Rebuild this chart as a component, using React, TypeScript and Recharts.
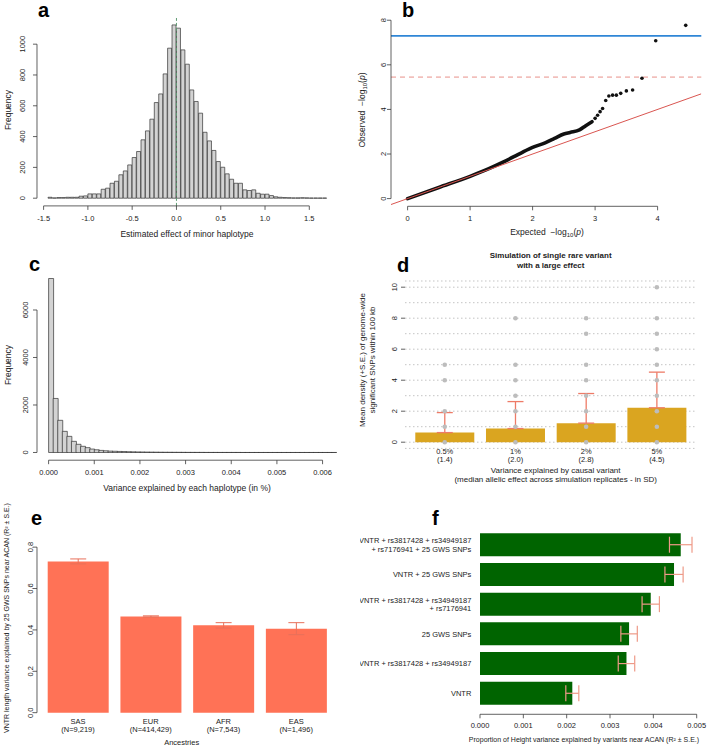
import React from 'react'
import {
  ComposedChart,
  BarChart,
  Bar,
  Line,
  Scatter,
  XAxis,
  YAxis,
  ReferenceLine,
  CartesianGrid,
  ErrorBar,
} from 'recharts'

const FONT = '"Liberation Sans", Arial, Helvetica, sans-serif'
const INK = '#222'
const AXIS = '#3a3a3a'

// a: estimated effect of minor haplotype (histogram, bins of 0.05)
const effectStart = -1.45
const effectBinWidth = 0.05
const effectCounts = [
  6, 2, 4, 4, 6, 6, 6, 13, 15, 28, 28, 28, 58, 65, 97, 110, 152, 177, 216, 264,
  303, 379, 437, 513, 621, 677, 807, 974, 1125, 1104, 963, 870, 703, 628, 552, 428,
  372, 310, 238, 201, 158, 123, 97, 97, 54, 50, 54, 32, 26, 26, 17, 9, 6, 4, 3, 2,
  2, 3, 2, 1, 1, 1, 1,
]
const effectTicks = [-1.5, -1, -0.5, 0, 0.5, 1, 1.5]
const effectFreqTicks = [0, 200, 400, 600, 800, 1000]

// b: QQ plot
const qqExpected = [0, 0.5, 1.0, 1.3, 1.5, 1.7, 1.85, 2.0, 2.2, 2.35, 2.5, 2.6, 2.75, 2.85, 2.95]
const qqObserved = [0, 0.5, 1.0, 1.34, 1.6, 1.88, 2.1, 2.3, 2.5, 2.7, 2.9, 2.97, 3.08, 3.27, 3.45]
const qqTailExpected = [3.0, 3.04, 3.08, 3.12, 3.17, 3.22, 3.28, 3.34, 3.41, 3.5, 3.6, 3.75, 3.97, 4.45]
const qqTailObserved = [3.6, 3.74, 3.9, 4.04, 4.4, 4.6, 4.64, 4.64, 4.72, 4.83, 4.87, 5.4, 7.08, 7.77]
const qqXTicks = [0, 1, 2, 3, 4]
const qqYTicks = [0, 2, 4, 6, 8]
const gwsThreshold = 7.3
const suggestiveThreshold = 5.45

// c: variance explained by each haplotype (bins of 0.0001)
const varStart = 0
const varBinWidth = 0.0001
const varCounts = [
  7326, 2275, 1355, 890, 680, 470, 345, 260, 205, 145, 115, 88, 72, 58, 52, 44, 40,
  33, 28, 24, 21, 18, 15, 13, 11, 10, 9, 8, 7, 6, 5, 5, 4, 4, 3, 3, 3, 2, 2, 2, 2, 2,
  1, 1, 1, 1, 1, 1, 1, 1, 1, 1, 1, 1, 1, 1, 1, 1, 1, 1, 1, 1, 1,
]
const varTicks = [0, 0.001, 0.002, 0.003, 0.004, 0.005, 0.006]
const varFreqTicks = [0, 2000, 4000, 6000]

// d: simulation of single rare variant
const simCats = ['0.5%', '1%', '2%', '5%']
const simEffects = ['(1.4)', '(2.0)', '(2.8)', '(4.5)']
const simMeans = [0.62, 0.88, 1.23, 2.22]
const simUpper = [1.91, 2.62, 3.14, 4.52]
const simReplicates = [
  [0, 1, 2, 4, 5],
  [0, 1, 2, 3, 4, 5, 8],
  [0, 1, 2, 3, 4, 5, 7, 8],
  [0, 1, 2, 3, 4, 5, 6, 7, 8, 10],
]
const simTicks = [0, 1, 2, 3, 4, 5, 6, 7, 8, 9, 10]

// e: VNTR length variance by ancestry
const ancestries = ['SAS', 'EUR', 'AFR', 'EAS']
const ancestryN = ['(N=9,219)', '(N=414,429)', '(N=7,543)', '(N=1,496)']
const vntrR2 = [0.731, 0.465, 0.422, 0.406]
const vntrSE = [0.012, 0.003, 0.013, 0.029]
const vntrTicks = [0, 0.2, 0.4, 0.6, 0.8]

// f: height variance explained by variants near ACAN
const models = [
  'VNTR + rs3817428 + rs34949187\n+ rs7176941 + 25 GWS SNPs',
  'VNTR + 25 GWS SNPs',
  'VNTR + rs3817428 + rs34949187\n+ rs7176941',
  '25 GWS SNPs',
  'VNTR + rs3817428 + rs34949187',
  'VNTR',
]
const heightR2 = [0.004632, 0.004477, 0.00394, 0.00344, 0.00338, 0.00213]
const heightSE = [0.00026, 0.00021, 0.0002, 0.00019, 0.00019, 0.00015]
const heightTicks = [0, 0.001, 0.002, 0.003, 0.004, 0.005]

const effectRows = effectCounts.map((n, i) => ({ x: effectStart + (i + 0.5) * effectBinWidth, n }))
const varRows = varCounts.map((n, i) => ({ x: varStart + (i + 0.5) * varBinWidth, n }))
const qqRows = qqExpected.map((e, i) => ({ e, o: qqObserved[i] }))
const qqTailRows = qqTailExpected.map((e, i) => ({ e, o: qqTailObserved[i] }))
const simRows = simCats.map((cat, i) => ({ cat, mean: simMeans[i], err: [0, simUpper[i] - simMeans[i]] }))
const simDots = simCats.flatMap((cat, i) => simReplicates[i].map((v) => ({ cat, v })))
const vntrRows = ancestries.map((anc, i) => ({ anc, r2: vntrR2[i], se: vntrSE[i] }))
const heightRows = models.map((model, i) => ({ model, r2: heightR2[i], se: heightSE[i] }))

const txt = { fontFamily: FONT, fontSize: 7.5, fill: INK }

// y axis width used by every left axis; the axis line sits at this x inside each chart
const YW = 36

const bottomTick = (fmt: (v: number) => string) => (p: any) => (
  <text x={p.x} y={p.y} dy="0.71em" textAnchor="middle" {...txt}>
    {fmt(p.payload.value)}
  </text>
)

// R style rotated y labels; off = distance from axis line to label centre
const leftRotTick = (off: number, fmt: (v: number) => string) => (p: any) => {
  const bx = YW - off + 2.7
  return (
    <text x={bx} y={p.y} transform={`rotate(-90 ${bx} ${p.y})`} textAnchor="middle" {...txt}>
      {fmt(p.payload.value)}
    </text>
  )
}

const simYTick = (p: any) => {
  const v = p.payload.value
  if (v % 2 !== 0) return <g />
  const bx = YW - 11 + 2.7
  return (
    <g>
      <line x1={YW - 4} x2={YW} y1={p.y} y2={p.y} stroke={AXIS} strokeWidth={0.8} />
      <text x={bx} y={p.y} transform={`rotate(-90 ${bx} ${p.y})`} textAnchor="middle" {...txt}>
        {v}
      </text>
    </g>
  )
}

const simXTick = (p: any) => {
  const i = simCats.indexOf(p.payload.value)
  return (
    <g>
      <text x={p.x} y={p.y + 6} textAnchor="middle" {...txt}>{p.payload.value}</text>
      <text x={p.x} y={p.y + 13.5} textAnchor="middle" {...txt}>{simEffects[i]}</text>
    </g>
  )
}

const ancXTick = (p: any) => {
  const i = ancestries.indexOf(p.payload.value)
  return (
    <g>
      <text x={p.x} y={p.y + 4.8} textAnchor="middle" {...txt}>{p.payload.value}</text>
      <text x={p.x} y={p.y + 13.2} textAnchor="middle" {...txt}>{ancestryN[i]}</text>
    </g>
  )
}

const modelTick = (p: any) => {
  const lines = String(p.payload.value).split('\n')
  const top = p.y - ((lines.length - 1) * 8.6) / 2 + 2.6
  return (
    <g>
      {lines.map((s, k) => (
        <text key={k} x={p.x} y={top + k * 8.6} textAnchor="end" {...txt}>
          {s}
        </text>
      ))}
    </g>
  )
}

const frame = (L: number, T: number, R: number, B: number, yw: number, xh: number, pr = 6) => {
  const pad = 6
  return {
    style: { position: 'absolute' as const, left: L - yw, top: T - pad },
    width: R - L + yw + pr,
    height: B - T + pad + xh,
    margin: { top: pad, right: pr, bottom: 0, left: 0 },
  }
}

function Label({ x, y, size = 8.5, rot = false, bold = false, children }: any) {
  return (
    <text
      x={x}
      y={y}
      dy="0.35em"
      textAnchor="middle"
      fontSize={size}
      fontWeight={bold ? 'bold' : 'normal'}
      fill={INK}
      transform={rot ? `rotate(-90 ${x} ${y})` : undefined}
    >
      {children}
    </text>
  )
}

function Letter({ x, y, children }: any) {
  return (
    <text x={x} y={y} fontSize={20} fontWeight="bold" fill="#000">
      {children}
    </text>
  )
}

const LogP = () => (
  <>
    <tspan>{'\u2212log'}</tspan>
    <tspan dy={2} fontSize={6}>10</tspan>
    <tspan dy={-2}>(</tspan>
    <tspan fontStyle="italic">p</tspan>
    <tspan>)</tspan>
  </>
)

export default function App() {
  const aX: [number, number] = [-1.5745, 1.826]
  const aY: [number, number] = [-50, 1170]
  const bX: [number, number] = [-0.2656, 4.699]
  const bY: [number, number] = [-0.345, 8.1]
  const cX: [number, number] = [-0.000254, 0.006388]
  const cY: [number, number] = [-324, 7600]
  const eY: [number, number] = [-0.032, 0.82]

  const fa = frame(36.7, 18.1, 337.9, 206, YW, 24)
  const fb = frame(390.7, 17.7, 701, 206, YW, 24)
  const fc = frame(36.7, 271.8, 340, 460, YW, 24)
  const fd = frame(404.9, 281.1, 696.5, 448.5, YW, 20)
  const fe = frame(36.7, 542.6, 336.9, 718.9, YW, 20)
  const ff = frame(480, 524, 696.7, 714.3, 120, 22, 10)

  const line = { stroke: AXIS, strokeWidth: 0.8 }

  return (
    <div
      style={{
        position: 'absolute',
        left: 0,
        top: 0,
        width: 707,
        height: 746,
        background: '#fff',
        fontFamily: FONT,
        overflow: 'hidden',
      }}
    >
      {/* a */}
      <div style={fa.style}>
        <ComposedChart width={fa.width} height={fa.height} margin={fa.margin} data={effectRows} barCategoryGap={0} barGap={0}>
          <XAxis dataKey="x" type="number" domain={aX} allowDataOverflow ticks={effectTicks} interval={0}
            axisLine={false} tickLine={line} tickSize={4} tickMargin={6} height={24}
            tick={bottomTick((v) => v.toFixed(1))} />
          <YAxis type="number" domain={aY} allowDataOverflow ticks={effectFreqTicks} interval={0}
            axisLine={false} tickLine={line} tickSize={4} tickMargin={0} width={YW}
            tick={leftRotTick(14.4, String)} />
          <Bar dataKey="n" fill="#d3d3d3" stroke="#333" strokeWidth={0.7} isAnimationActive={false} />
          <ReferenceLine x={0} stroke="#5f9c72" strokeDasharray="3 2" strokeWidth={1} />
          <ReferenceLine segment={[{ x: effectTicks[0], y: aY[0] }, { x: effectTicks[effectTicks.length - 1], y: aY[0] }]} {...line} ifOverflow="visible" />
          <ReferenceLine segment={[{ x: aX[0], y: 0 }, { x: aX[0], y: 1000 }]} {...line} ifOverflow="visible" />
        </ComposedChart>
      </div>

      {/* b */}
      <div style={fb.style}>
        <ComposedChart width={fb.width} height={fb.height} margin={fb.margin} data={qqRows}>
          <XAxis dataKey="e" type="number" domain={bX} allowDataOverflow ticks={qqXTicks} interval={0}
            axisLine={false} tickLine={line} tickSize={4} tickMargin={5} height={24}
            tick={bottomTick(String)} />
          <YAxis type="number" domain={bY} allowDataOverflow ticks={qqYTicks} interval={0}
            axisLine={false} tickLine={line} tickSize={4} tickMargin={0} width={YW}
            tick={leftRotTick(7.4, String)} />
          <ReferenceLine y={gwsThreshold} stroke="#2f86d6" strokeWidth={1.6} />
          <ReferenceLine y={suggestiveThreshold} stroke="#e8908a" strokeDasharray="5 4" strokeWidth={1} />
          <Line dataKey="o" type="monotone" stroke="#111" strokeWidth={3.6} dot={false} strokeLinecap="round" isAnimationActive={false} />
          <Scatter data={qqTailRows} dataKey="o" fill="#111" isAnimationActive={false}
            shape={(p: any) => <circle cx={p.cx} cy={p.cy} r={1.8} fill="#111" />} />
          <ReferenceLine segment={[{ x: bX[0], y: bX[0] }, { x: bX[1], y: bX[1] }]} stroke="#d9544f" strokeWidth={1} ifOverflow="hidden" />
          <ReferenceLine segment={[{ x: 0, y: bY[0] }, { x: 4, y: bY[0] }]} {...line} ifOverflow="visible" />
          <ReferenceLine segment={[{ x: bX[0], y: 0 }, { x: bX[0], y: 8 }]} {...line} ifOverflow="visible" />
        </ComposedChart>
      </div>

      {/* c */}
      <div style={fc.style}>
        <ComposedChart width={fc.width} height={fc.height} margin={fc.margin} data={varRows} barCategoryGap={0} barGap={0}>
          <XAxis dataKey="x" type="number" domain={cX} allowDataOverflow ticks={varTicks} interval={0}
            axisLine={false} tickLine={line} tickSize={4} tickMargin={5} height={24}
            tick={bottomTick((v) => v.toFixed(3))} />
          <YAxis type="number" domain={cY} allowDataOverflow ticks={varFreqTicks} interval={0}
            axisLine={false} tickLine={line} tickSize={4} tickMargin={0} width={YW}
            tick={leftRotTick(11.7, String)} />
          <Bar dataKey="n" fill="#d3d3d3" stroke="#333" strokeWidth={0.7} isAnimationActive={false} />
          <ReferenceLine segment={[{ x: 0, y: cY[0] }, { x: 0.006, y: cY[0] }]} {...line} ifOverflow="visible" />
          <ReferenceLine segment={[{ x: cX[0], y: 0 }, { x: cX[0], y: 6000 }]} {...line} ifOverflow="visible" />
        </ComposedChart>
      </div>

      {/* d */}
      <div style={fd.style}>
        <ComposedChart width={fd.width} height={fd.height} margin={fd.margin} data={simRows} barCategoryGap="8.33%">
          <CartesianGrid vertical={false} stroke="#c4c4c4" strokeDasharray="1.5 2.5" />
          <XAxis dataKey="cat" type="category" allowDuplicatedCategory={false} padding={{ left: 4.4, right: 4.4 }}
            axisLine={false} tickLine={false} tickSize={0} tickMargin={0} height={20} interval={0}
            tick={simXTick} />
          <YAxis type="number" domain={[-0.4, 10.4]} allowDataOverflow ticks={simTicks} interval={0}
            axisLine={false} tickLine={false} tickSize={4} tickMargin={0} width={YW}
            tick={simYTick} />
          <Bar dataKey="mean" fill="#daa520" isAnimationActive={false}>
            <ErrorBar dataKey="err" width={8} stroke="#ee7b67" strokeWidth={1.3} direction="y" isAnimationActive={false} />
          </Bar>
          <Scatter data={simDots} dataKey="v" fill="#bdbdbd" isAnimationActive={false}
            shape={(p: any) => <circle cx={p.cx} cy={p.cy} r={2.3} fill="#bdbdbd" />} />
        </ComposedChart>
      </div>

      {/* e */}
      <div style={fe.style}>
        <ComposedChart width={fe.width} height={fe.height} margin={fe.margin} data={vntrRows} barCategoryGap="8.33%">
          <XAxis dataKey="anc" type="category" padding={{ left: 4.65, right: 4.65 }}
            axisLine={false} tickLine={false} tickSize={0} tickMargin={0} height={20} interval={0}
            tick={ancXTick} />
          <XAxis xAxisId="n" type="number" domain={[0, 1]} hide />
          <YAxis type="number" domain={eY} allowDataOverflow ticks={vntrTicks} interval={0}
            axisLine={false} tickLine={line} tickSize={4} tickMargin={0} width={YW}
            tick={leftRotTick(6.7, (v) => v.toFixed(1))} />
          <Bar dataKey="r2" fill="#ff7256" isAnimationActive={false}>
            <ErrorBar dataKey="se" width={8} stroke="#e8705a" strokeWidth={1} direction="y" isAnimationActive={false} />
          </Bar>
          <ReferenceLine xAxisId="n" segment={[{ x: 0, y: 0 }, { x: 0, y: 0.8 }]} {...line} ifOverflow="visible" />
        </ComposedChart>
      </div>

      {/* f */}
      <div style={ff.style}>
        <BarChart layout="vertical" width={ff.width} height={ff.height} margin={ff.margin} data={heightRows} barCategoryGap="10.8%">
          <XAxis type="number" domain={[0, 0.005]} allowDataOverflow ticks={heightTicks} interval={0}
            axisLine={line} tickLine={line} tickSize={4} tickMargin={4.4} height={22}
            tick={bottomTick((v) => v.toFixed(3))} />
          <YAxis type="category" dataKey="model" width={120} padding={{ top: 6, bottom: 6 }}
            axisLine={false} tickLine={false} tickSize={0} tickMargin={8.7} interval={0}
            tick={modelTick} />
          <Bar dataKey="r2" fill="#006400" isAnimationActive={false}>
            <ErrorBar dataKey="se" width={8} stroke="#ee9a88" strokeWidth={1.2} direction="x" isAnimationActive={false} />
          </Bar>
        </BarChart>
      </div>

      <svg width={707} height={746} style={{ position: 'absolute', left: 0, top: 0, pointerEvents: 'none' }} fontFamily={FONT}>
        <Letter x={38} y={17}>a</Letter>
        <Letter x={402} y={17}>b</Letter>
        <Letter x={29} y={271}>c</Letter>
        <Letter x={397} y={272}>d</Letter>
        <Letter x={31} y={525}>e</Letter>
        <Letter x={432} y={525}>f</Letter>

        <Label x={8.3} y={110} rot>Frequency</Label>
        <Label x={187} y={234.3}>Estimated effect of minor haplotype</Label>

        <Label x={362.3} y={110} rot>
          {'Observed\u00a0\u00a0'}
          <LogP />
        </Label>
        <Label x={547} y={232}>
          {'Expected\u00a0\u00a0'}
          <LogP />
        </Label>

        <Label x={8.3} y={365} rot>Frequency</Label>
        <Label x={187} y={487.7}>Variance explained by each haplotype (in %)</Label>

        <Label x={550.7} y={255} size={8} bold>Simulation of single rare variant</Label>
        <Label x={550.7} y={265} size={8} bold>with a large effect</Label>
        <Label x={362.3} y={360} size={8} rot>Mean density (+S.E.) of genome-wide</Label>
        <Label x={372.3} y={360} size={8} rot>significant SNPs within 100 kb</Label>
        <Label x={555.7} y={470} size={8}>Variance explained by causal variant</Label>
        <Label x={555.7} y={479.3} size={8}>(median allelic effect across simulation replicates - in SD)</Label>

        <Label x={6.7} y={618} size={7} rot>VNTR length variance explained by 25 GWS SNPs near ACAN (R² ± S.E.)</Label>
        <Label x={181.7} y={742.3} size={7.5}>Ancestries</Label>

        <Label x={584} y={740} size={7}>Proportion of Height variance explained by variants near ACAN (R² ± S.E.)</Label>
      </svg>
    </div>
  )
}
